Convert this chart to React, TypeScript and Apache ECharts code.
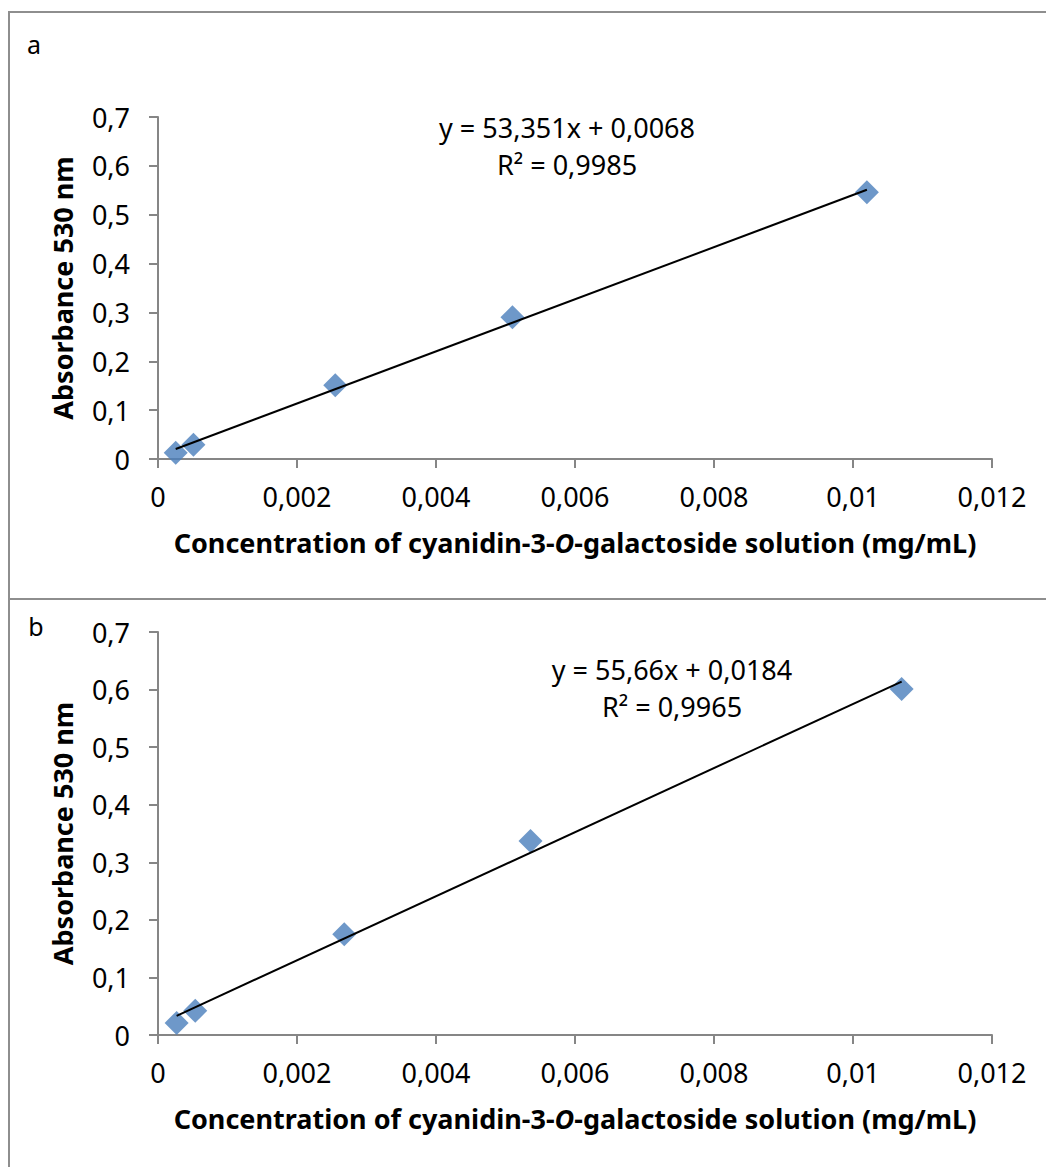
import React, { useEffect, useRef } from "react";
import * as echarts from "echarts";

// Panel a data
const concA = [0.000255, 0.00051, 0.00255, 0.0051, 0.0102];
const absA = [0.013, 0.029, 0.151, 0.29, 0.546];
const slopeA = 53.351;
const interceptA = 0.0068;
const eqA = ["y = 53,351x + 0,0068", "R² = 0,9985"];

// Panel b data
const concB = [0.000268, 0.000536, 0.00268, 0.00536, 0.0107];
const absB = [0.021, 0.042, 0.175, 0.337, 0.601];
const slopeB = 55.66;
const interceptB = 0.0184;
const eqB = ["y = 55,66x + 0,0184", "R² = 0,9965"];

const xTicks = { min: 0, max: 0.012, interval: 0.002 };
const yTicks = { min: 0, max: 0.7, interval: 0.1 };

const FONT = "Noto Sans";

const fmt = (v: number) => String(+v.toFixed(4)).replace(".", ",");

function trend(xs: number[], m: number, b: number) {
  const lo = Math.min(...xs);
  const hi = Math.max(...xs);
  return [
    [lo, m * lo + b],
    [hi, m * hi + b],
  ];
}

export default function App() {
  const ref = useRef<HTMLDivElement>(null);
  useEffect(() => {
    document.body.style.margin = "0";
    if (!ref.current) return;
    const chart = echarts.init(ref.current, undefined, { renderer: "svg" });
    const axisLine = { lineStyle: { color: "#868686", width: 2 } };
    const mkX = (gi: number) => ({
      type: "value",
      gridIndex: gi,
      ...xTicks,
      axisLine: { show: true, onZero: false, ...axisLine },
      axisTick: { show: true, length: 9, lineStyle: { color: "#868686", width: 2 } },
      splitLine: { show: false },
      axisLabel: { formatter: fmt, color: "#000", fontSize: 27, fontFamily: FONT, margin: 24 },
      name: "Concentration of cyanidin-3-{i|O}-galactoside solution (mg/mL)",
      nameLocation: "middle",
      nameGap: 70,
      nameTextStyle: {
        color: "#000",
        fontSize: 27,
        fontWeight: "bold",
        fontFamily: FONT,
        rich: {
          i: { fontStyle: "italic", fontWeight: "bold", fontSize: 27, fontFamily: FONT, color: "#000" },
        },
      },
    });
    const mkY = (gi: number) => ({
      type: "value",
      gridIndex: gi,
      ...yTicks,
      axisLine: { show: true, ...axisLine },
      axisTick: { show: true, length: 9, lineStyle: { color: "#868686", width: 2 } },
      splitLine: { show: false },
      axisLabel: { formatter: fmt, color: "#000", fontSize: 27, fontFamily: FONT, margin: 28 },
      name: "Absorbance 530 nm",
      nameLocation: "middle",
      nameGap: 82,
      nameTextStyle: { color: "#000", fontSize: 27, fontWeight: "bold", fontFamily: FONT },
    });
    const border = { stroke: "#8e8e8e", lineWidth: 2 };
    const eqText = (lines: string[], x: number, y: number) =>
      lines.map((t, i) => ({
        type: "text",
        x,
        y: y + i * 37,
        style: { text: t, fill: "#000", font: `27px "${FONT}"`, textAlign: "center", textVerticalAlign: "middle" },
      }));
    chart.setOption({
      animation: false,
      backgroundColor: "#fff",
      grid: [
        { left: 158, right: 54, top: 117, height: 342 },
        { left: 158, right: 54, top: 632, height: 403 },
      ],
      xAxis: [mkX(0), mkX(1)],
      yAxis: [mkY(0), mkY(1)],
      series: [
        {
          type: "scatter",
          xAxisIndex: 0,
          yAxisIndex: 0,
          symbol: "diamond",
          symbolSize: 24,
          itemStyle: { color: "#4a7ebb" },
          data: concA.map((c, i) => [c, absA[i]]),
          z: 2,
        },
        {
          type: "line",
          xAxisIndex: 0,
          yAxisIndex: 0,
          showSymbol: false,
          lineStyle: { color: "#000", width: 2 },
          data: trend(concA, slopeA, interceptA),
          z: 3,
        },
        {
          type: "scatter",
          xAxisIndex: 1,
          yAxisIndex: 1,
          symbol: "diamond",
          symbolSize: 24,
          itemStyle: { color: "#4a7ebb" },
          data: concB.map((c, i) => [c, absB[i]]),
          z: 2,
        },
        {
          type: "line",
          xAxisIndex: 1,
          yAxisIndex: 1,
          showSymbol: false,
          lineStyle: { color: "#000", width: 2 },
          data: trend(concB, slopeB, interceptB),
          z: 3,
        },
      ],
      graphic: [
        { type: "line", shape: { x1: 9, y1: 12, x2: 9, y2: 1167 }, style: border },
        { type: "line", shape: { x1: 8, y1: 12, x2: 1046, y2: 12 }, style: border },
        { type: "line", shape: { x1: 8, y1: 599, x2: 1046, y2: 599 }, style: border },
        { type: "text", x: 34, y: 44, style: { text: "a", fill: "#000", font: `25px "${FONT}"`, textAlign: "center", textVerticalAlign: "middle" } },
        { type: "text", x: 36, y: 626, style: { text: "b", fill: "#000", font: `25px "${FONT}"`, textAlign: "center", textVerticalAlign: "middle" } },
        ...eqText(eqA, 567, 127),
        ...eqText(eqB, 672, 669),
      ],
    });
    return () => chart.dispose();
  }, []);
  return <div ref={ref} style={{ width: 1046, height: 1167 }} />;
}
